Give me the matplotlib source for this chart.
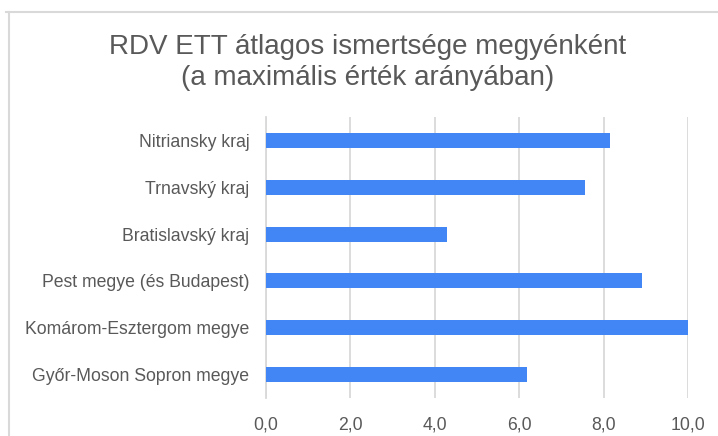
import matplotlib
matplotlib.use("Agg")
from matplotlib import pyplot as plt
from matplotlib.lines import Line2D
from matplotlib.ticker import FuncFormatter

# data (top to bottom)
regions = [
    "Nitriansky kraj",
    "Trnavský kraj",
    "Bratislavský kraj",
    "Pest megye (és Budapest)",
    "Komárom-Esztergom megye",
    "Győr-Moson Sopron megye",
]
values = [8.15, 7.56, 4.28, 8.90, 10.0, 6.19]
xticks = [0, 2, 4, 6, 8, 10]

title_lines = ["RDV ETT átlagos ismertsége megyénként", "(a maximális érték arányában)"]

bar_color = "#4285F4"
text_color = "#595959"
grid_color = "#D9D9D9"

plt.rcParams["font.family"] = ["Liberation Sans", "DejaVu Sans"]

fig = plt.figure(figsize=(7.18, 4.36), dpi=100)
ax = fig.add_axes([266 / 718, 1 - 398 / 436, (688 - 266) / 718, (398 - 117) / 436])

pos = list(range(len(regions)))[::-1]
ax.barh(pos, values, height=0.32, color=bar_color, zorder=3)

ax.set_xlim(0, 10)
ax.set_ylim(-0.5, len(regions) - 0.5)
ax.set_xticks(xticks)
ax.xaxis.set_major_formatter(FuncFormatter(lambda v, p: ("%.1f" % v).replace(".", ",")))
ax.set_yticks(pos)
ax.set_yticklabels(regions)
ax.tick_params(axis="both", length=0, colors=text_color, labelsize=12.7)
ax.tick_params(axis="x", pad=13)
ax.tick_params(axis="y", pad=12)

ax.grid(axis="x", color=grid_color, linewidth=1.3, zorder=0)
for s in ["top", "right", "bottom"]:
    ax.spines[s].set_visible(False)
ax.spines["left"].set_color(grid_color)
ax.spines["left"].set_linewidth(1.3)

# title
fig.text(367.5 / 718, 1 - 47 / 436, title_lines[0], ha="center", va="center",
         fontsize=20, color=text_color)
fig.text(367.5 / 718, 1 - 78 / 436, title_lines[1], ha="center", va="center",
         fontsize=20, color=text_color)

# chart frame (top and left edges only visible)
fig.add_artist(Line2D([6 / 718, 1], [1 - 12 / 436] * 2, color=grid_color, linewidth=1.5))
fig.add_artist(Line2D([9 / 718] * 2, [0, 1 - 12 / 436], color=grid_color, linewidth=1.5))

fig.savefig("out.png", dpi=100)
